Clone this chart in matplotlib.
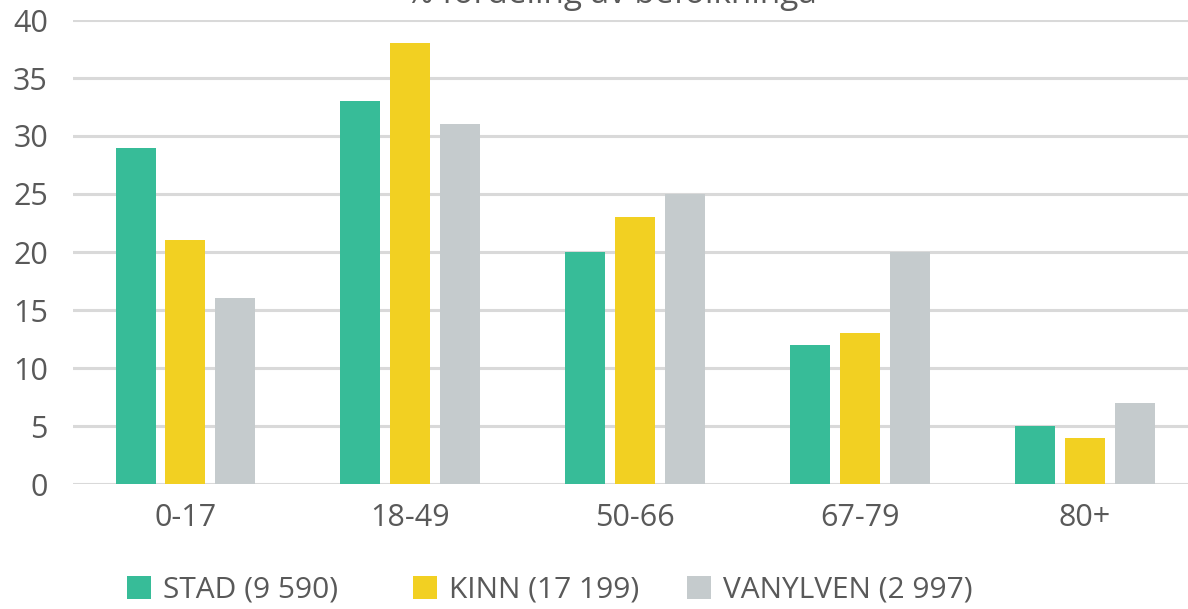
import matplotlib
matplotlib.use("Agg")
import matplotlib.pyplot as plt
import numpy as np
from matplotlib.patches import Patch

# Data
categories = ["0-17", "18-49", "50-66", "67-79", "80+"]
stad = [29, 33, 20, 12, 5]
kinn = [21, 38, 23, 13, 4]
vanylven = [16, 31, 25, 20, 7]
series_labels = ["STAD (9 590)", "KINN (17 199)", "VANYLVEN (2 997)"]
colors = ["#37bc98", "#f2d022", "#c5cbcd"]
title = "% fordeling av befolkninga"

plt.rcParams['font.family'] = ['Open Sans', 'DejaVu Sans']
text_color = "#595959"

W, H = 1188, 609
fig = plt.figure(figsize=(W / 100, H / 100), dpi=100)
ax = fig.add_axes([73 / W, (H - 484) / H, (W - 73) / W, 464 / H])

x = np.arange(len(categories))
width = 0.178
step = 0.222
for i, (vals, col) in enumerate(zip([stad, kinn, vanylven], colors)):
    ax.bar(x + (i - 1) * step, vals, width=width, color=col, zorder=2)

ax.set_xlim(-0.5, 4.458)
ax.set_ylim(0, 40)
ax.set_yticks(range(0, 41, 5))
ax.set_xticks(x)
ax.set_xticklabels(categories)
ax.yaxis.grid(True, color="#d9d9d9", linewidth=2.2, zorder=0)
ax.set_axisbelow(True)
for s in ax.spines.values():
    s.set_visible(False)
ax.tick_params(axis='both', length=0, labelsize=22, labelcolor=text_color)
ax.tick_params(axis='y', pad=18)
ax.tick_params(axis='x', pad=14)

# title mostly clipped at the top edge, as in the reference
fig.text(0.515, 1 - 3 / H, title, ha='center', va='baseline', fontsize=24, color=text_color)

# legend entries sit in roughly fixed-width columns, so place each one
legend_x = [127, 413, 687]
for c, lab, lx in zip(colors, series_labels, legend_x):
    fig.legend([Patch(facecolor=c, edgecolor='none')], [lab], loc='center left',
               bbox_to_anchor=(lx / W, 1 - 590 / H), frameon=False, fontsize=21.5,
               labelcolor=text_color, handlelength=0.8, handleheight=0.82,
               handletextpad=0.4, borderaxespad=0, borderpad=0)

fig.savefig("out.png", dpi=100)
